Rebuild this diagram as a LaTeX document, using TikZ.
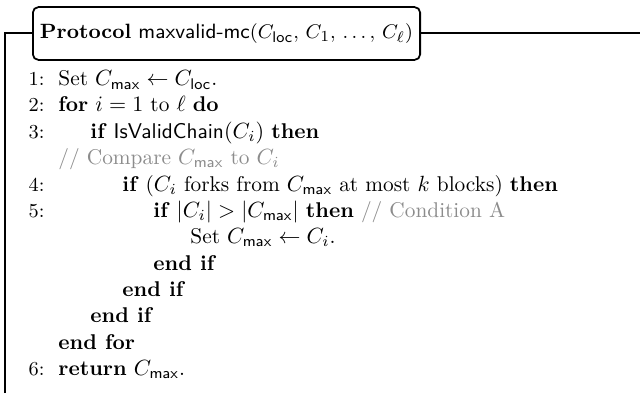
\documentclass[tikz,border=0pt]{standalone}
\usepackage{amsmath}
\definecolor{remgray}{gray}{0.55}
\tikzset{
  codeline/.style={anchor=base west, inner sep=0pt},
  lineno/.style={anchor=base east, inner sep=0pt, font=\fontsize{9}{11}\selectfont},
  remark/.style={codeline, text=remgray},
  frameline/.style={line width=1.2pt},
  titlebox/.style={draw, line width=0.8pt, fill=white, rounded corners=2.5pt,
    minimum width=176pt, minimum height=24pt, inner sep=0pt,
    font=\fontsize{9.4}{11}\selectfont}
}
\newcommand{\kw}[1]{\textbf{#1}}
\newcommand{\cmax}{C_{\mathsf{max}}}
\begin{document}
\begin{tikzpicture}[x=0.4545pt, y=-0.4545pt, font=\fontsize{9.7}{11.5}\selectfont]
\useasboundingbox (0,0) rectangle (640,393);
% frame
\coordinate (corner) at (5,33);
\coordinate (frameend) at (640,33);
\coordinate (framebot) at (5,393);
\draw[frameline] (framebot) -- (corner) -- (frameend);
\node[titlebox] (title) at (226.5,33.5)
  {\kw{Protocol} \textsf{maxvalid-mc}$(C_{\mathsf{loc}},\, C_1,\, \ldots,\, C_\ell)$};
% body
\node[codeline] (l1) at (58,86) {Set $\cmax \leftarrow C_{\mathsf{loc}}$.};
\node[codeline] (l2) at (58,112) {\kw{for} $i = 1$ to $\ell$ \kw{do}};
\node[codeline] (l3) at (90,138) {\kw{if} \textsf{IsValidChain}$(C_i)$ \kw{then}};
\node[remark] (l4) at (58,164) {// Compare $\cmax$ to $C_i$};
\node[codeline] (l5) at (122,191) {\kw{if} ($C_i$ forks from $\cmax$ at most $k$ blocks) \kw{then}};
\node[codeline] (l6) at (153,217) {\kw{if} $|C_i| > |\cmax|$ \kw{then} \textcolor{remgray}{// Condition A}};
\node[codeline] (l7) at (190,243) {Set $\cmax \leftarrow C_i$.};
\node[codeline] (l8) at (153,270) {\kw{end if}};
\node[codeline] (l9) at (122,296) {\kw{end if}};
\node[codeline] (l10) at (90,322) {\kw{end if}};
\node[codeline] (l11) at (58,349) {\kw{end for}};
\node[codeline] (l12) at (58,375) {\kw{return} $\cmax$.};
% line numbers
\foreach \n/\r in {1/1,2/2,3/3,4/5,5/6,6/12}
  \node[lineno] (n\n) at (45,0 |- l\r.base) {\n:};
\end{tikzpicture}
\end{document}
